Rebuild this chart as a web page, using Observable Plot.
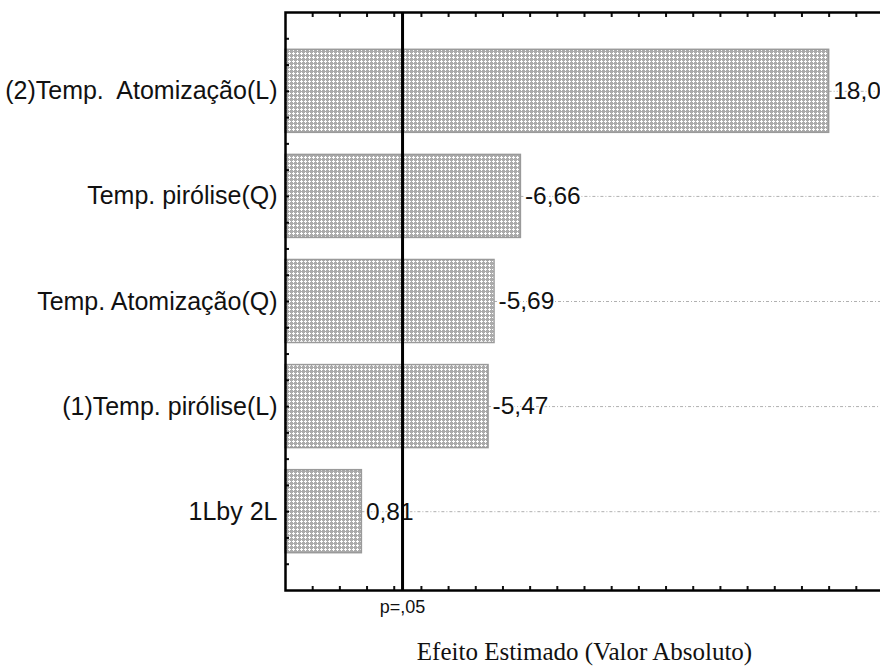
<!DOCTYPE html>
<html>
<head>
<meta charset="utf-8">
<script src="https://cdn.jsdelivr.net/npm/d3@7"></script>
<script src="https://cdn.jsdelivr.net/npm/@observablehq/plot@0.6"></script>
<style>
  html, body { margin: 0; padding: 0; background: #fff; overflow: hidden; }
  #chart svg { display: block; max-width: none !important; }
</style>
</head>
<body>
<div id="chart"></div>
<script>
// Pareto chart of standardized effects
const factors = [
  "(2)Temp.  Atomização(L)",
  "Temp. pirólise(Q)",
  "Temp. Atomização(Q)",
  "(1)Temp. pirólise(L)",
  "1Lby 2L"
];
const effects = [18.00, -6.66, -5.69, -5.47, 0.81];
const pCritical = 2.306;           // t value for p = 0,05
const pLabel = "p=,05";
const xTitle = "Efeito Estimado (Valor Absoluto)";
const xDomain = [-2, 20];
const yDomain = [4.75, -0.75];

const rows = factors.map((name, i) => ({
  i, name, effect: effects[i], size: Math.abs(effects[i])
}));
// decimal comma and a plain hyphen for negatives
const fmt = v => d3.format(".2f")(v).replace(".", ",").replace("\u2212", "-");
const xTicks = d3.range(xDomain[0] + 1, xDomain[1]);
const yMinorTicks = d3.range(-0.5, 4.51, 0.25);

const sans = "'Liberation Sans', Arial, sans-serif";

const chart = Plot.plot({
  width: 893,
  height: 666,
  marginLeft: 285,
  marginRight: 10,
  marginTop: 12,
  marginBottom: 76,
  style: { fontFamily: sans, background: "#fff", color: "#111", maxWidth: "none" },
  x: { domain: xDomain },
  y: { domain: yDomain },
  marks: [
    // leader lines from bar end to right edge
    Plot.ruleY(rows, {
      y: "i", x1: "size", x2: xDomain[1],
      stroke: "#b0b0b0", strokeWidth: 1, strokeDasharray: "3,2,1,2"
    }),
    Plot.rectX(rows, {
      x1: xDomain[0], x2: "size",
      y1: d => d.i - 0.395, y2: d => d.i + 0.395,
      fill: "url(#hatch)", stroke: "#9a9a9a", strokeWidth: 1.5
    }),
    Plot.text(rows, {
      x: "size", y: "i", text: d => fmt(d.effect),
      textAnchor: "start", dx: 4, fontSize: 24.5, fill: "#111",
      stroke: "white", strokeWidth: 3
    }),
    Plot.ruleX([pCritical], { stroke: "black", strokeWidth: 3 }),
    // inward tick marks on all four sides
    Plot.axisX(xTicks, { anchor: "top", tickSize: -4, strokeWidth: 2, tickFormat: () => "", label: null }),
    Plot.axisX(xTicks, { anchor: "bottom", tickSize: -4, strokeWidth: 2, tickFormat: () => "", label: null }),
    Plot.axisY(yMinorTicks, { anchor: "left", tickSize: -4, strokeWidth: 2, tickFormat: () => "", label: null }),
    Plot.axisY(yMinorTicks, { anchor: "right", tickSize: -4, strokeWidth: 2, tickFormat: () => "", label: null }),
    // factor names
    Plot.axisY(rows.map(d => d.i), {
      anchor: "left", tickSize: 0, tickPadding: 8, fontSize: 25,
      tickFormat: i => factors[i], label: null, fill: "#111"
    }),
    Plot.frame({ stroke: "black", strokeWidth: 2.5 }),
    Plot.text([pLabel], {
      x: pCritical, frameAnchor: "bottom", dy: 17, text: d => d,
      fontSize: 18, fill: "#111", lineAnchor: "middle"
    }),
    Plot.text([xTitle], {
      x: d3.mean(xDomain), frameAnchor: "bottom", dy: 61, text: d => d,
      fontSize: 25, fill: "#111", lineAnchor: "middle",
      fontFamily: "'Liberation Serif', 'Times New Roman', serif"
    })
  ]
});

// crosshatch fill for the bars
const defs = d3.select(chart).insert("defs", ":first-child");
const pat = defs.append("pattern")
  .attr("id", "hatch").attr("patternUnits", "userSpaceOnUse")
  .attr("width", 4).attr("height", 4);
pat.append("rect").attr("width", 4).attr("height", 4).attr("fill", "#ababab");
[[1, 0], [0, 1], [1, 1], [2, 1], [1, 2]].forEach(([px, py]) =>
  pat.append("rect").attr("x", px).attr("y", py).attr("width", 1).attr("height", 1).attr("fill", "#fff"));

document.getElementById("chart").append(chart);
</script>
</body>
</html>
